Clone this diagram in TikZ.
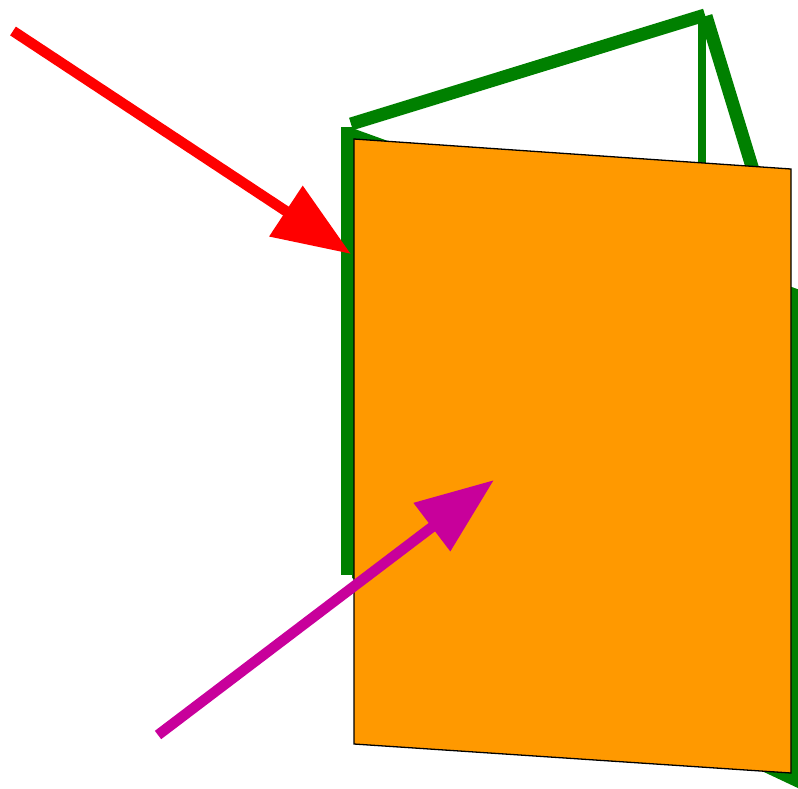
\documentclass[tikz,border=0pt]{standalone}
\usetikzlibrary{arrows.meta}
\definecolor{gr}{HTML}{008000}
\definecolor{og}{HTML}{FF9900}
\definecolor{mg}{HTML}{C8009B}
\begin{document}
\begin{tikzpicture}[x=1pt,y=-1pt,
  greenline/.style={draw=gr,line width=#1},
  bigarrow/.style={line width=10.5pt,-{Triangle[length=78pt,width=58pt]}}]
\useasboundingbox (0,0) rectangle (798,788);
\clip (0,0) rectangle (798,788);
% back page
\coordinate (bTL) at (352,128);
\coordinate (bTR) at (800,290);
\coordinate (bBR) at (800,789);
\coordinate (bBL) at (352,578);
\coordinate (peak) at (705,15);
\fill[gr] (bTL) -- (bTR) -- (bBR) -- (bBL) -- cycle;
\draw[greenline=13pt] (351,124) -- (peak);
\draw[greenline=11pt] (346,127) -- (346,575);
\draw[greenline=13pt] (706,16) -- (782,265);
\draw[greenline=8pt] (702,18) -- (702,175);
% front page
\draw[fill=og,draw=black,line width=1.3pt] (354,139) -- (791,169) -- (791,773) -- (354,744) -- cycle;
% arrows
\coordinate (rs) at (13,31);
\coordinate (rt) at (351,254);
\draw[red,bigarrow] (rs) -- (rt);
\coordinate (ms) at (158,735);
\coordinate (mt) at (494,480);
\draw[mg,bigarrow] (ms) -- (mt);
\end{tikzpicture}
\end{document}
